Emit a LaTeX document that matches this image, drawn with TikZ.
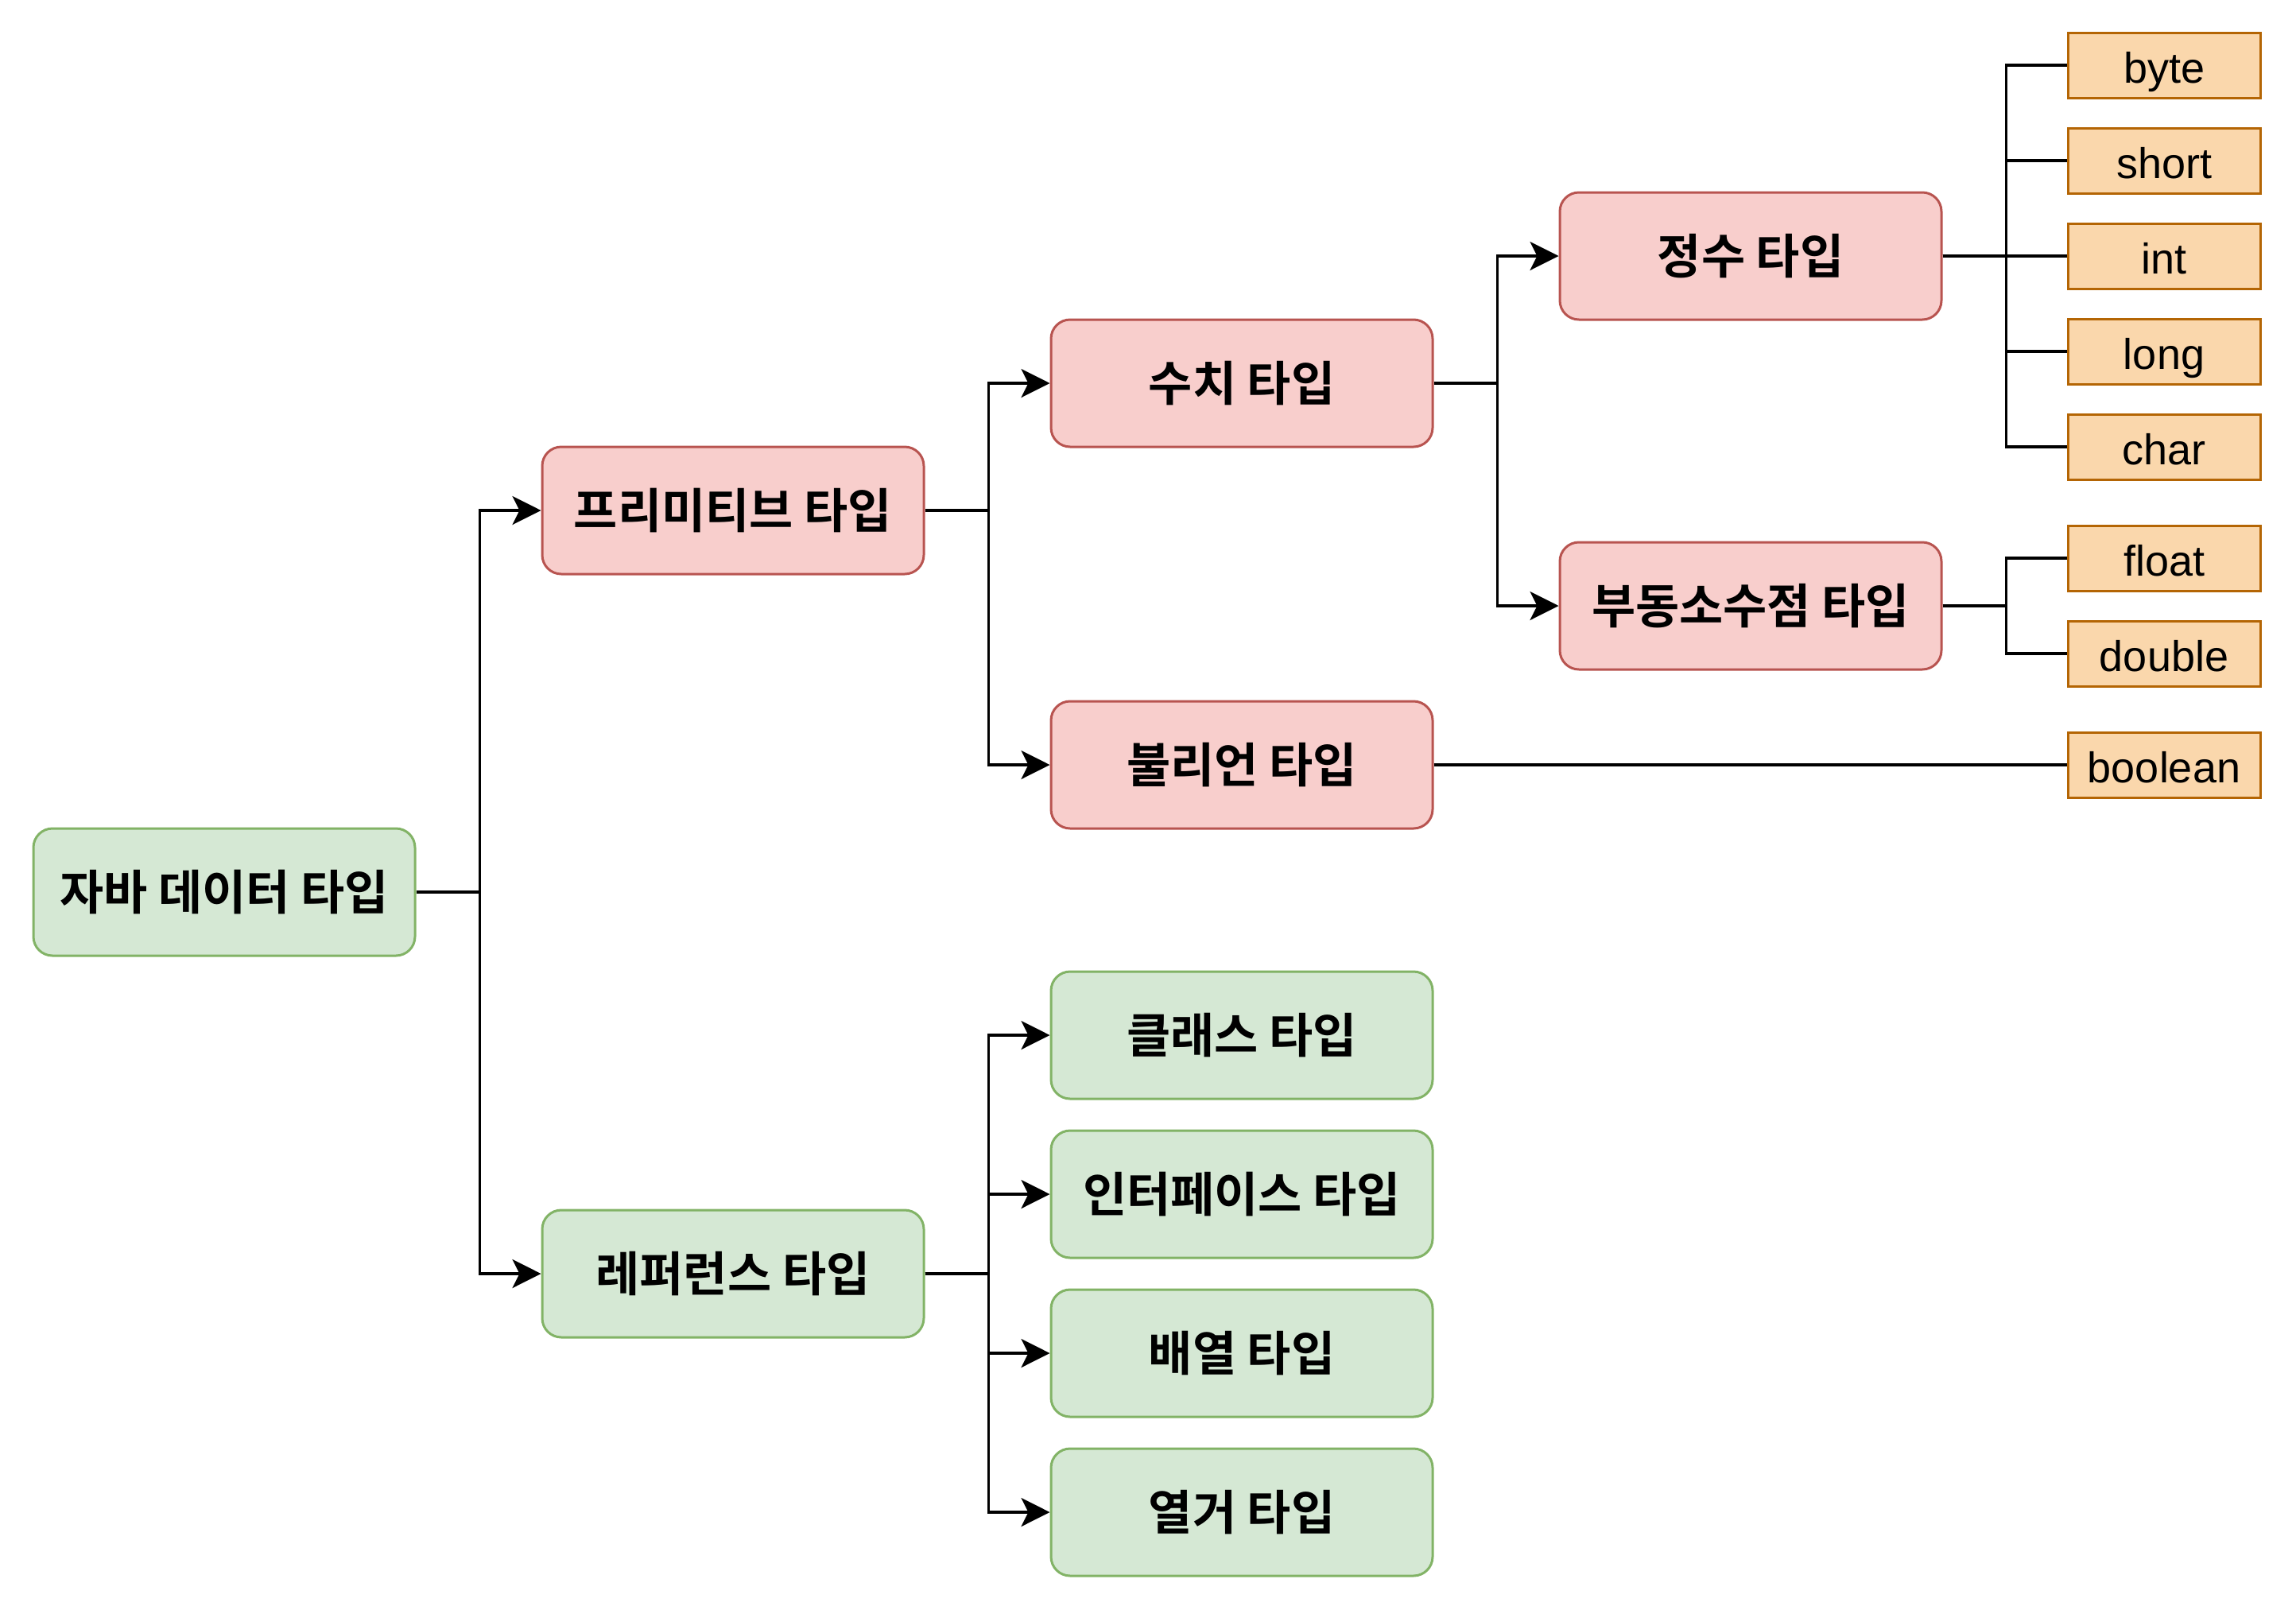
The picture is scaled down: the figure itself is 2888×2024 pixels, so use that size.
\documentclass[tikz,border=0pt]{standalone}
\usepackage{fontspec}
\setmainfont{Liberation Sans}
\newfontfamily\kr{Noto Sans CJK KR}[BoldFont=* Bold]
\usetikzlibrary{arrows.meta}
\definecolor{redfill}{HTML}{F8CECC}
\definecolor{redline}{HTML}{B85450}
\definecolor{greenfill}{HTML}{D5E8D4}
\definecolor{greenline}{HTML}{82B366}
\definecolor{orfill}{HTML}{FAD7AC}
\definecolor{orline}{HTML}{B46504}
\tikzset{
  basebox/.style={rounded corners=24pt, line width=3pt, minimum width=480pt, minimum height=160pt,
    inner sep=0pt, text height=45pt, text depth=0pt, text=black,
    font=\kr\bfseries\fontsize{60}{66}\selectfont},
  redbox/.style={basebox, draw=redline, fill=redfill},
  greenbox/.style={basebox, draw=greenline, fill=greenfill},
  leaf/.style={draw=orline, fill=orfill, line width=3pt, minimum width=242pt, minimum height=82pt,
    inner sep=0pt, text height=44pt, text depth=0pt, text=black, font=\fontsize{54}{60}\selectfont},
  conn/.style={line width=3.5pt, black},
  arr/.style={conn, -{Stealth[length=36pt,width=36pt,inset=9pt]}}
}
\begin{document}
\begin{tikzpicture}[x=1pt,y=-1pt]
\useasboundingbox (0,0) rectangle (2888,2024);
% main nodes
\node[greenbox] (java) at (282,1122) {자바 데이터 타입};
\node[redbox] (prim) at (922,642) {프리미티브 타입};
\node[greenbox] (ref) at (922,1602) {레퍼런스 타입};
\node[redbox] (num) at (1562,482) {수치 타입};
\node[redbox] (bool) at (1562,962) {불리언 타입};
\node[redbox] (intt) at (2202,322) {정수 타입};
\node[redbox] (flt) at (2202,762) {부동소수점 타입};
\node[greenbox] (cls) at (1562,1302) {클래스 타입};
\node[greenbox] (ifc) at (1562,1502) {인터페이스 타입};
\node[greenbox] (arrt) at (1562,1702) {배열 타입};
\node[greenbox] (enm) at (1562,1902) {열거 타입};
% leaves
\node[leaf] (byte) at (2722,82) {byte};
\node[leaf] (short) at (2722,202) {short};
\node[leaf] (int) at (2722,322) {int};
\node[leaf] (long) at (2722,442) {long};
\node[leaf] (char) at (2722,562) {char};
\node[leaf] (float) at (2722,702) {float};
\node[leaf] (double) at (2722,822) {double};
\node[leaf] (boolean) at (2722,962) {boolean};
% connectors
\draw[arr] (java.east) -- ++(80,0) |- (prim.west);
\draw[arr] (java.east) -- ++(80,0) |- (ref.west);
\draw[arr] (prim.east) -- ++(80,0) |- (num.west);
\draw[arr] (prim.east) -- ++(80,0) |- (bool.west);
\draw[arr] (num.east) -- ++(80,0) |- (intt.west);
\draw[arr] (num.east) -- ++(80,0) |- (flt.west);
\draw[arr] (ref.east) -- ++(80,0) |- (cls.west);
\draw[arr] (ref.east) -- ++(80,0) |- (ifc.west);
\draw[arr] (ref.east) -- ++(80,0) |- (arrt.west);
\draw[arr] (ref.east) -- ++(80,0) |- (enm.west);
\foreach \l in {byte,short,int,long,char}{
  \draw[conn] (intt.east) -- ++(80,0) |- (\l.west);
}
\foreach \l in {float,double}{
  \draw[conn] (flt.east) -- ++(80,0) |- (\l.west);
}
\draw[conn] (bool.east) -- (boolean.west);
\end{tikzpicture}
\end{document}
